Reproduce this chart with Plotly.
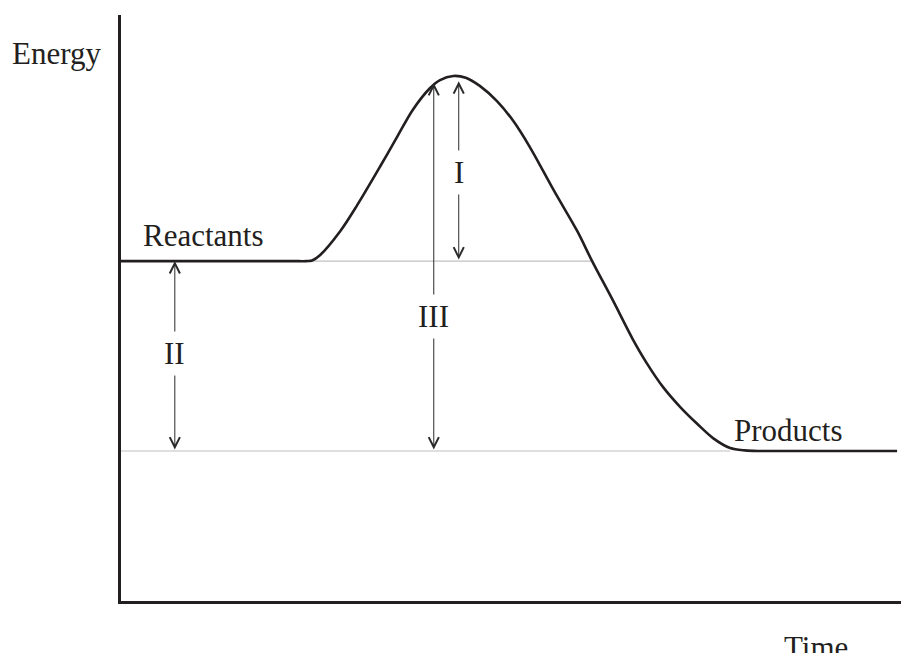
import plotly.graph_objects as go

# Reaction coordinate (time) and energy of the profile curve
time_pts = [0, 12.0, 22.0, 23.8, 24.5, 25.5, 28.1, 30.3, 33.2, 35.4, 37.4, 39.6, 40.9,
            42.6, 44.2, 46.0, 48.2, 50.3, 52.4, 55.6, 58.5, 60.4, 63.1, 65.6, 67.4,
            69.5, 71.7, 73.9, 75.9, 78.1, 80.0, 82.0, 90.0, 99.5]
energy_pts = [58.0, 58.0, 58.0, 58.0, 58.1, 59.0, 63.1, 67.6, 74.1, 79.2, 83.8, 87.5, 88.9,
              89.6, 89.3, 87.9, 85.3, 81.9, 77.5, 69.8, 63.1, 58.0, 51.2, 44.7, 40.6,
              36.5, 33.1, 30.2, 27.8, 26.1, 25.7, 25.6, 25.6, 25.6]

reactant_level = 58.0
product_level = 25.6
reactant_line_end = 60.4
product_line_end = 78.1

# Double arrows: label, x, top energy, bottom energy, label energy
arrow_labels = ["II", "III", "I"]
arrow_x = [6.9, 40.1, 43.3]
arrow_top = [58.0, 88.4, 88.7]
arrow_bottom = [25.6, 25.6, 58.0]
arrow_label_y = [42.3, 48.6, 73.2]

# Curve labels (data coordinates)
curve_labels = ["Reactants", "Products"]
curve_label_x = [10.6, 85.6]
curve_label_y = [62.4, 29.1]

# Axis titles (paper coordinates)
axis_titles = ["Energy", "Time"]
axis_title_x = [-0.0833, 0.891]
axis_title_y = [0.934, -0.080]

DARK = "#231f20"
FONT = dict(family="Liberation Serif, Times New Roman, serif", size=31, color=DARK)

fig = go.Figure()

fig.add_trace(go.Scatter(x=[0, reactant_line_end], y=[reactant_level, reactant_level],
                         mode="lines", line=dict(color="#c0c0c0", width=1.2),
                         hoverinfo="skip", showlegend=False))
fig.add_trace(go.Scatter(x=[0, product_line_end], y=[product_level, product_level],
                         mode="lines", line=dict(color="#c0c0c0", width=1.2),
                         hoverinfo="skip", showlegend=False))
fig.add_trace(go.Scatter(x=time_pts, y=energy_pts, mode="lines",
                         line=dict(color=DARK, width=2.6, shape="spline", smoothing=0.9),
                         hoverinfo="skip", showlegend=False))

annotations = []
for lab, ax_, top, bot in zip(arrow_labels, arrow_x, arrow_top, arrow_bottom):
    annotations.append(dict(x=ax_, y=top, ax=ax_, ay=bot, xref="x", yref="y",
                            axref="x", ayref="y", text="", showarrow=True,
                            arrowhead=5, arrowside="end+start", arrowsize=2,
                            arrowwidth=1, arrowcolor="#2a2a2a", standoff=0, startstandoff=0))
for lab, ax_, ly in zip(arrow_labels, arrow_x, arrow_label_y):
    annotations.append(dict(x=ax_, y=ly, xref="x", yref="y", text=lab, showarrow=False,
                            font=FONT, bgcolor="white", borderpad=4,
                            xanchor="center", yanchor="middle"))
for t, tx, ty in zip(curve_labels, curve_label_x, curve_label_y):
    annotations.append(dict(x=tx, y=ty, xref="x", yref="y", text=t, showarrow=False,
                            font=FONT, xanchor="center", yanchor="middle"))
for t, tx, ty in zip(axis_titles, axis_title_x, axis_title_y):
    annotations.append(dict(x=tx, y=ty, xref="paper", yref="paper", text=t, showarrow=False,
                            font=FONT, xanchor="center", yanchor="middle"))

fig.update_layout(
    width=901, height=653,
    margin=dict(l=121, r=0, t=15, b=52),
    paper_bgcolor="white", plot_bgcolor="white",
    annotations=annotations,
    xaxis=dict(range=[0, 100], showgrid=False, zeroline=False, showticklabels=False,
               ticks="", showline=True, linecolor=DARK, linewidth=2.5, fixedrange=True),
    yaxis=dict(range=[0, 100], showgrid=False, zeroline=False, showticklabels=False,
               ticks="", showline=True, linecolor=DARK, linewidth=2.5, fixedrange=True),
)

post = ("document.body.style.margin='0';document.body.style.padding='0';"
        "document.body.style.overflow='hidden';"
        "var gd=document.getElementById('{plot_id}');"
        "Plotly.relayout(gd,{width:901,height:653});")

fig.write_html("out.html", config={"responsive": False, "displayModeBar": False},
               post_script=post)
